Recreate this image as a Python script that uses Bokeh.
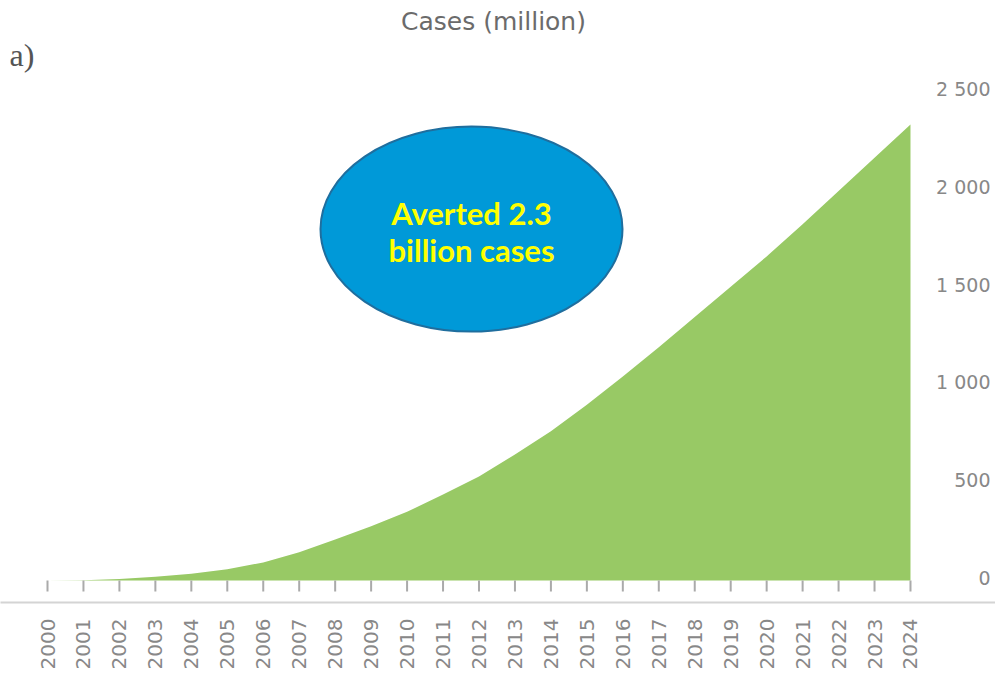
import math
from bokeh.plotting import figure
from bokeh.models import FixedTicker, Range1d
from bokeh.core.properties import value
from bokeh.embed import file_html
from bokeh.resources import INLINE

# ---- data ----
years = list(range(2000, 2025))
cases = [0, 2, 8, 20, 35, 58, 93, 145, 210, 278, 352, 440, 533, 645, 765,
         900, 1045, 1195, 1350, 1505, 1660, 1825, 1995, 2165, 2335]
y_ticks = [0, 500, 1000, 1500, 2000, 2500]
y_tick_labels = ["0", "500", "1 000", "1 500", "2 000", "2 500"]
title_text = "Cases (million)"
panel_text = "a)"
bubble_lines = ["Averted 2.3", "billion cases"]

# ---- layout (canvas px -> data) ----
W, H = 995, 672
FRAME_BOTTOM = 603
BASE_PX = 581
PX_PER_YEAR = 35.958
UNITS_PER_PX = 5.113
x_start = 2000 - 47 / PX_PER_YEAR
x_end = x_start + W / PX_PER_YEAR
y_start = -(FRAME_BOTTOM - BASE_PX) * UNITS_PER_PX
y_end = BASE_PX * UNITS_PER_PX

def px_x(px):
    return x_start + px / PX_PER_YEAR

def px_y(py):
    return (BASE_PX - py) * UNITS_PER_PX

p = figure(width=W, height=H, output_backend="svg", toolbar_location=None,
           x_range=Range1d(x_start, x_end), y_range=Range1d(y_start, y_end),
           y_axis_location=None, min_border_left=0, min_border_right=0,
           min_border_top=0, min_border_bottom=H - FRAME_BOTTOM)
p.outline_line_color = None
p.grid.visible = False
p.background_fill_color = "white"

# area
p.varea(x=years, y1=[0] * len(years), y2=cases, fill_color="#98C965")

# tick marks hanging below the baseline
tick_len = 11 * UNITS_PER_PX
p.segment(x0=years, y0=[0] * len(years), x1=years, y1=[-tick_len] * len(years),
          line_color="#aaaaaa", line_width=2)

# x axis
ax = p.xaxis[0]
ax.ticker = FixedTicker(ticks=years)
ax.major_label_orientation = math.pi / 2
ax.major_tick_out = 0
ax.major_tick_in = 0
ax.minor_tick_out = 0
ax.minor_tick_in = 0
ax.axis_line_color = "#d4d4d4"
ax.axis_line_width = 2
ax.major_label_standoff = 16
ax.major_label_text_font = "DejaVu Sans"
ax.major_label_text_font_size = "20px"
ax.major_label_text_color = "#888888"

# y tick labels (right aligned, at right edge)
p.text(x=[px_x(990)] * len(y_ticks), y=y_ticks, text=y_tick_labels,
       text_align="right", text_baseline="middle", y_offset=-3,
       text_font=value("DejaVu Sans"), text_font_size="19px", text_color="#888888")

# title
p.text(x=[px_x(493)], y=[px_y(21)], text=[title_text], text_align="center",
       text_baseline="middle", text_font=value("DejaVu Sans"),
       text_font_size="25px", text_color="#6b6b6b")

# panel label
p.text(x=[px_x(9)], y=[px_y(55)], text=[panel_text], text_align="left",
       text_baseline="middle", text_font=value("Liberation Serif"),
       text_font_size="32px", text_color="#555555")

# bubble
p.ellipse(x=[px_x(471)], y=[px_y(229)], width=302, height=205,
          width_units="screen", height_units="screen",
          fill_color="#0099D8", line_color="#1F6E9E", line_width=2)
p.text(x=[px_x(471)] * 2, y=[px_y(213), px_y(250)], text=bubble_lines,
       text_align="center", text_baseline="middle",
       text_font=value("Lato"), text_font_style="bold",
       text_font_size="31px", text_color="#FFFF00")

open("out.html", "w").write(file_html(p, INLINE))
